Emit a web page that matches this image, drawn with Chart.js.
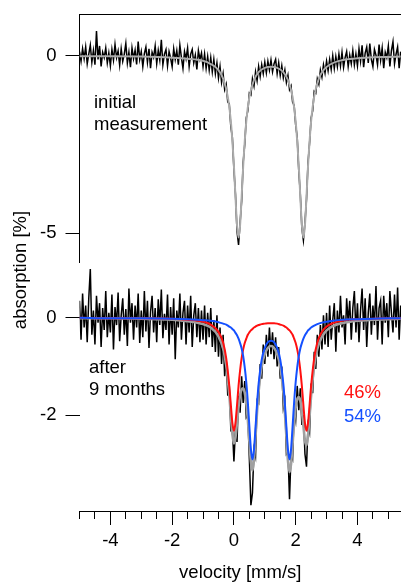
<!DOCTYPE html>
<html><head><meta charset="utf-8">
<script src="https://cdn.jsdelivr.net/npm/chart.js@4"></script>
<style>
html,body{margin:0;padding:0;background:#fff;width:401px;height:585px;overflow:hidden}
canvas{position:absolute;left:0;top:0}
</style></head><body>
<canvas id="cTop" width="401" height="585"></canvas>
<canvas id="cBot" width="401" height="585"></canvas>
<script>
// velocity channels [mm/s]
const velocity = [
-5,-4.95,-4.9,-4.85,-4.8,-4.75,-4.7,-4.65,-4.6,-4.55,
-4.5,-4.45,-4.4,-4.35,-4.3,-4.25,-4.2,-4.15,-4.1,-4.05,
-4,-3.95,-3.9,-3.85,-3.8,-3.75,-3.7,-3.65,-3.6,-3.55,
-3.5,-3.45,-3.4,-3.35,-3.3,-3.25,-3.2,-3.15,-3.1,-3.05,
-3,-2.95,-2.9,-2.85,-2.8,-2.75,-2.7,-2.65,-2.6,-2.55,
-2.5,-2.45,-2.4,-2.35,-2.3,-2.25,-2.2,-2.15,-2.1,-2.05,
-2,-1.95,-1.9,-1.85,-1.8,-1.75,-1.7,-1.65,-1.6,-1.55,
-1.5,-1.45,-1.4,-1.35,-1.3,-1.25,-1.2,-1.15,-1.1,-1.05,
-1,-0.95,-0.9,-0.85,-0.8,-0.75,-0.7,-0.65,-0.6,-0.55,
-0.5,-0.45,-0.4,-0.35,-0.3,-0.25,-0.2,-0.15,-0.1,-0.05,
0,0.05,0.1,0.15,0.2,0.25,0.3,0.35,0.4,0.45,
0.5,0.55,0.6,0.65,0.7,0.75,0.8,0.85,0.9,0.95,
1,1.05,1.1,1.15,1.2,1.25,1.3,1.35,1.4,1.45,
1.5,1.55,1.6,1.65,1.7,1.75,1.8,1.85,1.9,1.95,
2,2.05,2.1,2.15,2.2,2.25,2.3,2.35,2.4,2.45,
2.5,2.55,2.6,2.65,2.7,2.75,2.8,2.85,2.9,2.95,
3,3.05,3.1,3.15,3.2,3.25,3.3,3.35,3.4,3.45,
3.5,3.55,3.6,3.65,3.7,3.75,3.8,3.85,3.9,3.95,
4,4.05,4.1,4.15,4.2,4.25,4.3,4.35,4.4,4.45,
4.5,4.55,4.6,4.65,4.7,4.75,4.8,4.85,4.9,4.95,
5,5.05,5.1,5.15,5.2,5.25,5.3,5.35,5.4];

// initial measurement, absorption [%]
const initialData = [
0.12,-0.15,0.20,-0.08,0.25,-0.22,0.05,0.30,-0.18,0.15,
-0.25,0.70,-0.10,0.28,-0.30,0.10,-0.05,0.22,-0.20,0.08,
-0.28,0.18,-0.12,0.32,-0.05,0.14,-0.26,0.20,-0.15,0.05,
0.35,-0.20,0.10,-0.32,0.22,-0.08,0.16,-0.24,0.40,-0.10,
0.12,-0.30,0.06,0.25,-0.18,0.20,-0.35,0.10,-0.04,0.28,
-0.22,0.15,-0.12,0.45,-0.25,0.05,0.18,-0.28,0.12,-0.06,
-0.30,0.20,-0.10,0.15,-0.25,0.30,-0.05,-0.35,0.12,-0.08,
0.22,-0.30,0.05,0.18,-0.20,0.02,-0.38,0.15,-0.10,0.08,
-0.30,0.05,-0.35,-0.02,-0.40,-0.05,-0.45,-0.10,-0.50,-0.20,
-0.62,-0.30,-0.75,-0.50,-0.95,-0.80,-1.30,-1.35,-2.00,-2.30,
-3.20,-3.90,-4.95,-5.33,-4.70,-4.10,-3.00,-2.50,-1.75,-1.55,
-1.05,-1.10,-0.65,-0.85,-0.45,-0.70,-0.30,-0.58,-0.25,-0.50,
-0.18,-0.48,-0.15,-0.40,-0.12,-0.45,-0.22,-0.10,-0.50,-0.20,
-0.55,-0.28,-0.62,-0.40,-0.75,-0.55,-0.95,-0.85,-1.30,-1.40,
-1.95,-2.30,-3.25,-3.90,-4.85,-5.20,-4.70,-4.05,-3.00,-2.45,
-1.75,-1.55,-1.00,-1.05,-0.65,-0.80,-0.40,-0.60,-0.25,-0.48,
-0.15,-0.42,-0.10,-0.38,0.00,-0.35,-0.02,-0.30,0.05,-0.28,
0.10,-0.32,-0.05,0.12,-0.30,0.02,-0.22,0.15,-0.25,0.05,
-0.28,0.20,-0.15,0.30,-0.32,0.08,0.25,-0.20,0.35,-0.10,
-0.30,0.18,0.02,-0.25,0.32,-0.12,0.22,-0.35,0.10,-0.05,
0.28,-0.30,0.15,0.40,-0.22,0.05,0.25,-0.35,0.12];

// after 9 months, absorption [%]
const agedData = [
0.35,-0.45,0.50,-0.20,0.25,-0.50,0.40,1.00,-0.35,0.15,
-0.55,0.45,-0.10,0.30,-0.60,0.20,-0.25,0.55,-0.40,0.10,
-0.30,0.48,-0.65,0.22,-0.15,0.52,-0.48,0.05,0.40,-0.35,
0.18,-0.58,0.60,-0.10,0.30,-0.45,0.25,-0.20,0.50,-0.52,
0.15,-0.40,0.55,-0.28,0.35,-0.62,0.12,0.45,-0.30,0.20,
-0.50,0.38,-0.15,0.58,-0.42,0.08,-0.25,0.48,-0.55,0.22,
-0.35,0.40,-0.85,0.15,-0.20,0.50,-0.45,0.10,0.35,-0.55,
0.25,-0.30,0.45,-0.60,0.05,0.30,-0.40,0.20,-0.50,0.15,
-0.45,0.25,-0.55,0.10,-0.40,0.20,-0.60,-0.05,-0.70,0.05,
-0.80,-0.20,-0.95,-0.35,-1.20,-0.85,-1.60,-1.40,-2.30,-2.25,
-2.95,-2.30,-2.55,-1.60,-1.95,-1.20,-1.75,-1.30,-2.05,-2.00,
-2.90,-3.85,-3.60,-2.70,-2.85,-1.70,-1.75,-0.95,-1.25,-0.55,
-0.95,-0.35,-0.80,-0.20,-0.75,-0.30,-0.85,-0.40,-1.00,-0.60,
-1.25,-1.00,-1.85,-1.70,-2.80,-2.75,-3.73,-2.80,-2.90,-1.90,
-2.10,-1.40,-1.90,-1.45,-2.20,-2.00,-2.80,-3.06,-2.20,-2.35,
-1.35,-1.55,-0.70,-1.05,-0.35,-0.80,-0.15,-0.65,0.05,-0.55,
0.10,-0.60,0.25,-0.45,-0.05,0.30,-0.70,0.15,-0.30,0.45,
-0.20,0.05,-0.55,0.40,-0.10,0.35,-0.45,0.20,0.55,-0.30,
0.30,-0.50,0.15,0.60,-0.25,0.40,-0.60,0.10,0.50,-0.35,
0.25,-0.15,0.65,-0.45,0.20,0.35,-0.55,0.45,-0.10,0.30,
-0.40,0.55,0.10,-0.30,0.48,-0.20,0.62,-0.45,0.25];

// fit of the initial measurement
const initialFitV = [-5,-4,-3,-2,-1.5,-1,-0.75,-0.5,-0.35,-0.2,-0.1,0,0.05,0.1,0.15,0.2,0.25,0.3,0.4,0.5,
0.65,0.8,1,1.2,1.4,1.6,1.75,1.9,2,2.1,2.15,2.2,2.25,2.3,2.35,2.4,2.5,2.6,2.75,2.9,3.1,3.5,4,4.5,5,5.4];
const initialFit = [-0.01,-0.01,-0.02,-0.05,-0.08,-0.14,-0.23,-0.40,-0.64,-1.14,-1.83,-3.10,-3.97,-4.77,-5.12,-4.77,-3.97,-3.11,-1.85,-1.16,
-0.68,-0.46,-0.34,-0.31,-0.34,-0.46,-0.68,-1.16,-1.85,-3.11,-3.97,-4.77,-5.12,-4.77,-3.97,-3.10,-1.83,-1.14,-0.64,-0.40,-0.25,-0.12,-0.07,-0.04,-0.03,-0.02];

// fit of the aged sample and its two doublets
const agedFitV = [-5,-4,-3,-2,-1.5,-1,-0.75,-0.5,-0.35,-0.25,
-0.15,-0.1,-0.05,0,0.05,0.1,0.15,0.2,0.25,0.3,
0.35,0.4,0.45,0.5,0.55,0.6,0.65,0.7,0.75,0.8,
0.9,1,1.1,1.2,1.3,1.4,1.5,1.6,1.65,1.7,
1.75,1.8,1.85,1.9,1.95,2,2.05,2.1,2.15,2.2,
2.25,2.3,2.35,2.4,2.45,2.5,2.6,2.7,2.85,3,
3.2,3.5,4,4.5,5,5.4];
const agedFit = [-0.01,-0.01,-0.02,-0.04,-0.07,-0.13,-0.20,-0.38,-0.63,-0.97,
-1.58,-2.00,-2.39,-2.58,-2.46,-2.15,-1.83,-1.59,-1.47,-1.45,
-1.54,-1.75,-2.09,-2.53,-2.96,-3.14,-2.91,-2.43,-1.92,-1.51,
-0.99,-0.74,-0.62,-0.58,-0.62,-0.74,-1.00,-1.53,-1.94,-2.45,
-2.94,-3.17,-3.00,-2.58,-2.16,-1.84,-1.67,-1.63,-1.71,-1.92,
-2.22,-2.52,-2.62,-2.42,-2.02,-1.60,-0.99,-0.64,-0.39,-0.26,
-0.17,-0.11,-0.06,-0.04,-0.03,-0.02];
const redDoublet = [-0.00,-0.01,-0.01,-0.02,-0.04,-0.08,-0.14,-0.29,-0.51,-0.83,
-1.40,-1.79,-2.16,-2.32,-2.16,-1.80,-1.40,-1.08,-0.83,-0.65,
-0.52,-0.43,-0.35,-0.30,-0.26,-0.23,-0.20,-0.18,-0.16,-0.15,
-0.13,-0.12,-0.11,-0.11,-0.11,-0.12,-0.14,-0.16,-0.18,-0.20,
-0.23,-0.26,-0.30,-0.35,-0.43,-0.52,-0.65,-0.83,-1.08,-1.40,
-1.80,-2.16,-2.32,-2.16,-1.79,-1.40,-0.83,-0.51,-0.29,-0.18,
-0.11,-0.06,-0.03,-0.02,-0.01,-0.01];
const blueDoublet = [-0.00,-0.01,-0.01,-0.02,-0.03,-0.05,-0.06,-0.09,-0.12,-0.14,
-0.18,-0.20,-0.23,-0.26,-0.31,-0.36,-0.43,-0.52,-0.63,-0.79,
-1.02,-1.32,-1.73,-2.23,-2.70,-2.91,-2.71,-2.25,-1.76,-1.36,
-0.86,-0.62,-0.50,-0.47,-0.50,-0.62,-0.86,-1.36,-1.76,-2.25,
-2.71,-2.91,-2.70,-2.23,-1.73,-1.32,-1.02,-0.79,-0.63,-0.52,
-0.43,-0.36,-0.31,-0.26,-0.23,-0.20,-0.16,-0.13,-0.10,-0.08,
-0.06,-0.04,-0.03,-0.02,-0.01,-0.01];

// tick labels
const topYTicks = [0,-5];
const botYTicks = [0,-2];
const xMajorTicks = [-4,-2,0,2,4];
const xMinorTicks = [-5,-4.5,-4,-3.5,-3,-2.5,-2,-1.5,-1,-0.5,0,0.5,1,1.5,2,2.5,3,3.5,4,4.5,5];
const shares = ['46%','54%'];

const FAM = "'Liberation Sans', Arial, Helvetica, sans-serif";
const FONT = {family: FAM, size: 18.5};
function pts(xs, ys){ return xs.map((x,i)=>({x:x, y:ys[i]})); }
function fixTicks(vals){ return s => { s.ticks = vals.map(v=>({value:v})); }; }
function noPad(s){ s.paddingTop = 0; s.paddingBottom = 0; s.paddingLeft = 0; s.paddingRight = 0; }
const yTickOpts = {color:'#000', font:FONT, padding:9, callback:v=>String(v)};

new Chart(document.getElementById('cTop'), {
  type:'line',
  data:{datasets:[
    {data:pts(initialFitV, initialFit), borderColor:'#ababab', borderWidth:2, pointRadius:0, cubicInterpolationMode:'monotone', order:1},
    {data:pts(velocity, initialData), borderColor:'#000', borderWidth:1.5, pointRadius:0, tension:0, order:2}
  ]},
  options:{
    responsive:false, animation:false, devicePixelRatio:1,
    layout:{padding:{left:0,right:0,top:0,bottom:323}},
    plugins:{legend:{display:false}, tooltip:{enabled:false}},
    scales:{
      x:{type:'linear', position:'top', min:-5, max:5.41, afterFit:s=>{s.height=14; noPad(s);},
         ticks:{display:false}, grid:{drawOnChartArea:false, drawTicks:false},
         border:{display:true, color:'#000', width:1}},
      y:{type:'linear', position:'left', min:-5.81, max:1.18, afterFit:s=>{s.width=79.5; noPad(s);},
         afterBuildTicks:fixTicks(topYTicks), ticks:yTickOpts,
         grid:{drawOnChartArea:false, tickLength:14, tickColor:'#000', tickWidth:1},
         border:{display:true, color:'#000', width:1}}
    }
  }
});

const annot = {
  id:'annot',
  afterDraw(chart){
    const ctx = chart.ctx;
    ctx.save();
    ctx.font = '18.5px ' + FAM;
    ctx.textBaseline = 'alphabetic';
    ctx.textAlign = 'left';
    ctx.fillStyle = '#000';
    ctx.fillText('initial', 94, 108);
    ctx.fillText('measurement', 94, 130);
    ctx.fillText('after', 89, 373);
    ctx.fillText('9 months', 89, 395);
    ctx.fillStyle = '#ff1010';
    ctx.fillText(shares[0], 344, 398);
    ctx.fillStyle = '#1450ff';
    ctx.fillText(shares[1], 344, 421.5);
    ctx.translate(26, 270);
    ctx.rotate(-Math.PI/2);
    ctx.textAlign = 'center';
    ctx.fillStyle = '#000';
    ctx.fillText('absorption [%]', 0, 0);
    ctx.restore();
  }
};

new Chart(document.getElementById('cBot'), {
  type:'line',
  data:{datasets:[
    {data:pts(agedFitV, blueDoublet), borderColor:'#1450ff', borderWidth:2, pointRadius:0, cubicInterpolationMode:'monotone', order:1},
    {data:pts(agedFitV, redDoublet), borderColor:'#ff1010', borderWidth:2, pointRadius:0, cubicInterpolationMode:'monotone', order:2},
    {data:pts(agedFitV, agedFit), borderColor:'#a0a0a0', borderWidth:2.6, pointRadius:0, cubicInterpolationMode:'monotone', order:3},
    {data:pts(velocity, agedData), borderColor:'#000', borderWidth:1.5, pointRadius:0, tension:0, order:4}
  ]},
  options:{
    responsive:false, animation:false, devicePixelRatio:1,
    layout:{padding:{left:0,right:0,top:262,bottom:0}},
    plugins:{legend:{display:false}, tooltip:{enabled:false}},
    scales:{
      x:{type:'linear', position:'bottom', weight:1, min:-5, max:5.41,
         afterBuildTicks:fixTicks(xMajorTicks), afterFit:s=>{s.height=74; noPad(s);},
         ticks:{color:'#000', font:FONT, padding:5, maxRotation:0, autoSkip:false, callback:v=>String(v)},
         grid:{drawOnChartArea:false, tickLength:14, tickColor:'#000', tickWidth:1},
         border:{display:true, color:'#000', width:1},
         title:{display:true, text:'velocity [mm/s]', color:'#000', font:FONT, padding:{top:0,bottom:1}}},
      xMinor:{type:'linear', position:'bottom', weight:0, min:-5, max:5.41,
         afterBuildTicks:fixTicks(xMinorTicks), afterFit:s=>{s.height=0; noPad(s);},
         ticks:{display:false},
         grid:{drawOnChartArea:false, tickLength:8, tickColor:'#000', tickWidth:1},
         border:{display:false}},
      y:{type:'linear', position:'left', min:-3.97, max:1.146, afterFit:s=>{s.width=79.5; noPad(s);},
         afterBuildTicks:fixTicks(botYTicks), ticks:yTickOpts,
         grid:{drawOnChartArea:false, tickLength:14, tickColor:'#000', tickWidth:1},
         border:{display:false}}
    }
  },
  plugins:[annot]
});
</script>
</body></html>
